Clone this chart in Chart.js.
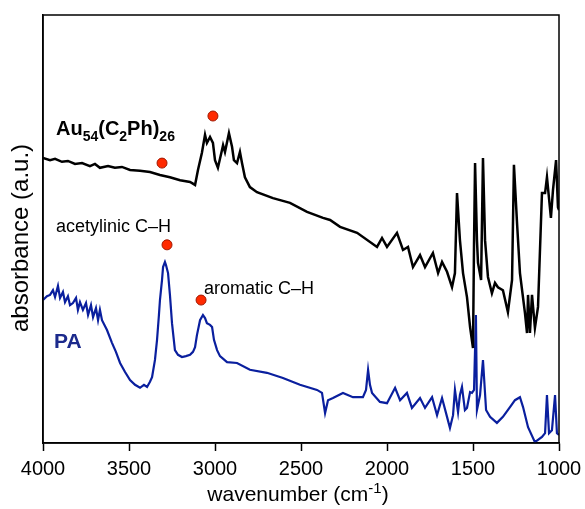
<!DOCTYPE html>
<html>
<head>
<meta charset="utf-8">
<script src="https://cdn.jsdelivr.net/npm/chart.js@4.4.1/dist/chart.umd.min.js"></script>
<style>
  html, body { margin: 0; padding: 0; background: #fff; }
  #wrap { width: 585px; height: 509px; position: relative; }
</style>
</head>
<body>
<div id="wrap"><canvas id="irChart"></canvas></div>
<script>
// widma IR (x = liczba falowa, y = absorbancja w j.u.)
const auWavenumber = [4000, 3959, 3930, 3890, 3855, 3814, 3773, 3727, 3698, 3669, 3622, 3582, 3541, 3494, 3436, 3378, 3320, 3262, 3203, 3145, 3116, 3099, 3076, 3058, 3047, 3029, 3012, 3000, 2983, 2959, 2953, 2942, 2919, 2901, 2890, 2872, 2855, 2843, 2826, 2797, 2756, 2663, 2564, 2465, 2372, 2331, 2273, 2174, 2058, 2029, 2000, 1942, 1907, 1878, 1849, 1808, 1779, 1733, 1703, 1680, 1651, 1622, 1605, 1593, 1576, 1558, 1535, 1517, 1500, 1494, 1488, 1477, 1471, 1453, 1442, 1430, 1413, 1390, 1372, 1355, 1326, 1297, 1273, 1262, 1244, 1227, 1198, 1186, 1180, 1169, 1157, 1140, 1122, 1099, 1081, 1070, 1047, 1035, 1017, 1006, 1000];
const auAbsorbance = [66.6, 66.1, 66.4, 65.7, 65.9, 65.2, 65.4, 64.7, 65.2, 64.3, 64.7, 64.3, 64.5, 63.8, 63.6, 63.3, 62.6, 62.1, 61.4, 61.0, 60.3, 63.8, 67.8, 72.0, 70.1, 71.5, 70.1, 66.1, 64.3, 68.5, 69.6, 68.0, 72.4, 69.2, 66.1, 65.4, 68.0, 65.4, 62.1, 59.8, 58.6, 57.2, 56.1, 54.0, 52.6, 52.1, 50.5, 49.1, 45.8, 47.9, 45.8, 49.1, 45.1, 45.8, 41.1, 43.9, 41.1, 44.4, 39.7, 42.3, 40.0, 36.4, 39.7, 58.4, 47.4, 39.7, 34.1, 27.1, 22.2, 46.7, 65.4, 47.4, 42.1, 38.1, 66.6, 47.4, 38.8, 35.0, 37.4, 36.4, 35.7, 30.6, 38.1, 65.0, 51.4, 39.7, 30.4, 25.7, 34.6, 25.7, 34.6, 26.9, 31.8, 58.4, 58.4, 62.1, 52.6, 59.1, 66.1, 55.1, 54.4];

const paWavenumber = [4000, 3977, 3959, 3942, 3930, 3913, 3901, 3884, 3872, 3855, 3843, 3826, 3808, 3797, 3785, 3768, 3750, 3738, 3721, 3709, 3692, 3680, 3669, 3657, 3628, 3599, 3576, 3552, 3523, 3494, 3465, 3436, 3413, 3395, 3378, 3366, 3349, 3337, 3326, 3320, 3308, 3302, 3291, 3285, 3273, 3262, 3250, 3233, 3215, 3192, 3169, 3145, 3128, 3116, 3105, 3087, 3070, 3058, 3047, 3029, 3017, 3006, 2988, 2971, 2930, 2872, 2797, 2698, 2605, 2506, 2407, 2378, 2360, 2343, 2314, 2256, 2198, 2140, 2122, 2110, 2099, 2087, 2041, 2000, 1953, 1924, 1884, 1855, 1808, 1779, 1738, 1709, 1680, 1651, 1634, 1616, 1605, 1587, 1576, 1564, 1547, 1535, 1517, 1506, 1494, 1483, 1477, 1459, 1442, 1424, 1401, 1361, 1326, 1285, 1256, 1227, 1209, 1180, 1140, 1099, 1081, 1070, 1058, 1041, 1023, 1012, 1000];
const paAbsorbance = [33.4, 34.3, 34.6, 35.7, 34.1, 36.7, 33.9, 35.3, 32.9, 34.3, 32.2, 32.7, 33.9, 31.1, 32.9, 31.1, 32.7, 29.9, 32.2, 29.4, 31.5, 28.7, 31.1, 28.7, 26.4, 23.4, 21.3, 18.7, 16.6, 14.7, 13.6, 12.9, 13.6, 13.1, 14.3, 15.4, 19.4, 24.1, 29.9, 33.4, 38.1, 41.1, 42.3, 41.6, 39.7, 34.6, 28.0, 21.7, 20.6, 20.1, 20.3, 20.6, 21.3, 22.4, 25.2, 28.7, 29.9, 29.2, 28.0, 27.6, 27.1, 24.1, 21.7, 20.3, 18.9, 18.7, 17.1, 16.4, 15.2, 13.6, 12.4, 11.7, 7.0, 10.0, 10.5, 11.7, 10.7, 10.7, 12.4, 17.1, 13.6, 11.7, 9.6, 9.3, 12.9, 10.0, 11.7, 8.2, 10.5, 8.2, 10.7, 6.5, 10.5, 6.1, 3.5, 6.5, 12.4, 7.2, 11.2, 13.1, 7.7, 8.2, 11.9, 11.7, 12.4, 29.9, 7.7, 11.2, 19.4, 7.7, 6.1, 4.7, 6.1, 8.4, 10.0, 10.7, 8.4, 3.7, 0.2, 1.4, 2.3, 11.2, 2.3, 3.0, 11.2, 2.3, 1.9];

// czerwone kropki: pasma C-H
const markerWavenumber = [3308, 3012, 3279, 3081];
const markerAbsorbance = [65.4, 76.4, 46.3, 33.4];

const xTicks = [4000, 3500, 3000, 2500, 2000, 1500, 1000];

function toPoints(xs, ys) {
    return xs.map((x, i) => ({ x: x, y: ys[i] }));
}

// rysuje tekst z indeksami dolnymi / górnymi
function drawRich(ctx, parts, x, y, size, weight, color) {
    ctx.fillStyle = color;
    ctx.textBaseline = 'alphabetic';
    ctx.textAlign = 'left';
    parts.forEach(p => {
        const s = p.sub || p.sup ? Math.round(size * 0.72) : size;
        ctx.font = weight + ' ' + s + 'px Arial, "Liberation Sans", sans-serif';
        const dy = p.sub ? size * 0.28 : (p.sup ? -size * 0.4 : 0);
        ctx.fillText(p.t, x, y + dy);
        x += ctx.measureText(p.t).width;
    });
}

const annotations = {
    id: 'annotations',
    afterDraw(chart) {
        const ctx = chart.ctx;
        const a = chart.chartArea;
        ctx.save();
        // ramka wykresu
        ctx.strokeStyle = '#000';
        ctx.lineWidth = 1.5;
        ctx.strokeRect(a.left, a.top, a.right - a.left, a.bottom - a.top);

        drawRich(ctx, [{ t: 'Au' }, { t: '54', sub: true }, { t: '(C' }, { t: '2', sub: true }, { t: 'Ph)' }, { t: '26', sub: true }],
            56, 135, 20, 'bold', '#000');
        drawRich(ctx, [{ t: 'acetylinic C\u2013H' }], 56, 232, 18, 'normal', '#000');
        drawRich(ctx, [{ t: 'aromatic C\u2013H' }], 204, 294, 18, 'normal', '#000');
        drawRich(ctx, [{ t: 'PA' }], 54, 348, 21, 'bold', '#1c2a8c');

        // tytuł osi x
        ctx.font = '21px Arial, "Liberation Sans", sans-serif';
        const w1 = ctx.measureText('wavenumber (cm').width;
        ctx.font = '15px Arial, "Liberation Sans", sans-serif';
        const w2 = ctx.measureText('-1').width;
        ctx.font = '21px Arial, "Liberation Sans", sans-serif';
        const w3 = ctx.measureText(')').width;
        const cx = (a.left + a.right) / 2 - 3;
        drawRich(ctx, [{ t: 'wavenumber (cm' }, { t: '-1', sup: true }, { t: ')' }],
            cx - (w1 + w2 + w3) / 2, 501, 21, 'normal', '#000');

        // tytuł osi y
        ctx.translate(21, 238);
        ctx.rotate(-Math.PI / 2);
        ctx.font = '24px Arial, "Liberation Sans", sans-serif';
        ctx.textAlign = 'center';
        ctx.textBaseline = 'middle';
        ctx.fillStyle = '#000';
        ctx.fillText('absorbance (a.u.)', 0, 0);
        ctx.restore();
    }
};

const ctx = document.getElementById('irChart').getContext('2d');
const irChart = new Chart(ctx, {
    type: 'line',
    data: {
        datasets: [
            {
                label: 'markers',
                type: 'scatter',
                data: toPoints(markerWavenumber, markerAbsorbance),
                pointRadius: 5,
                pointBackgroundColor: '#ff2a00',
                pointBorderColor: '#a01800',
                pointBorderWidth: 1
            },
            {
                label: 'Au54(C2Ph)26',
                data: toPoints(auWavenumber, auAbsorbance),
                borderColor: '#000',
                borderWidth: 2.5,
                pointRadius: 0,
                tension: 0
            },
            {
                label: 'PA',
                data: toPoints(paWavenumber, paAbsorbance),
                borderColor: '#0a1f9e',
                borderWidth: 2.2,
                pointRadius: 0,
                tension: 0
            }
        ]
    },
    options: {
        responsive: true,
        maintainAspectRatio: false,
        animation: false,
        layout: { padding: { top: 15, right: 26, left: 0, bottom: 0 } },
        plugins: {
            legend: { display: false },
            tooltip: { enabled: false }
        },
        scales: {
            x: {
                type: 'linear',
                reverse: true,
                min: 1000,
                max: 4000,
                afterFit: scale => {
                    scale.height = 66;
                    scale.paddingLeft = 0;
                    scale.paddingRight = 0;
                },
                afterBuildTicks: scale => { scale.ticks = xTicks.map(v => ({ value: v })); },
                ticks: {
                    color: '#000',
                    font: { size: 20, family: 'Arial, "Liberation Sans", sans-serif' },
                    padding: 6,
                    maxRotation: 0,
                    callback: v => String(v)
                },
                grid: { drawOnChartArea: false, tickLength: 8, color: '#000', tickWidth: 1.5 },
                border: { color: '#000', width: 1.5 }
            },
            y: {
                min: 0,
                max: 100,
                afterFit: scale => { scale.width = 43; },
                ticks: { display: false },
                grid: { display: false },
                border: { color: '#000', width: 1.5 }
            }
        }
    },
    plugins: [annotations]
});
</script>
</body>
</html>
